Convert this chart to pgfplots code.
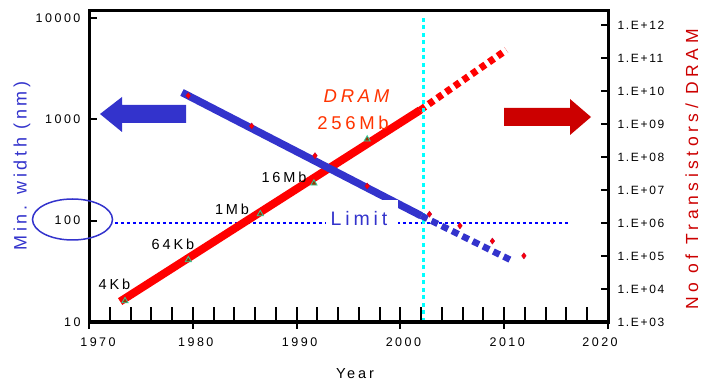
\documentclass[border=0pt]{standalone}
\usepackage{fontspec}
\setmainfont{Liberation Sans}[LetterSpace=20]
\newfontfamily\rlabfont{Liberation Sans}[LetterSpace=26]
\newfontfamily\rtickfont{Liberation Sans}[LetterSpace=14]
\usepackage{pgfplots}
\pgfplotsset{compat=1.18}
\definecolor{bl}{RGB}{51,51,204}
\definecolor{limitblue}{RGB}{0,0,255}
\definecolor{redline}{RGB}{255,0,0}
\definecolor{darkred}{RGB}{204,0,0}
\definecolor{dramorange}{RGB}{255,51,0}
\definecolor{cyanl}{RGB}{0,255,255}
\definecolor{tribrown}{RGB}{153,51,0}
\definecolor{trigreen}{RGB}{51,204,153}
\definecolor{diaedge}{RGB}{204,0,51}
\pgfplotsset{
  common/.style={
    at={(89pt,58pt)}, anchor=south west,
    scale only axis, width=519pt, height=311.3pt,
    xmin=1970, xmax=2020,
    axis line style={line width=3pt, black},
    tick style={black, line width=2pt},
    ticklabel style={font=\fontsize{12.5}{14}\selectfont, black},
    xminorticks=false, yminorticks=false,
  }
}
\begin{document}
\begin{tikzpicture}
\useasboundingbox (0,0) rectangle (703pt,380pt);
% ---------- right axis (transistors) ----------
\begin{axis}[common,
  ymode=log, ymin=1e3, ymax=2.71e12,
  xtick={1970,1980,1990,2000,2010,2020}, xticklabels={{},{},{},{},{},{}},
  xticklabel style={opacity=0},
  xtick align=outside, xtick pos=bottom,
  ytick={1e3,1e4,1e5,1e6,1e7,1e8,1e9,1e10,1e11,1e12},
  yticklabels={1.E+03,1.E+04,1.E+05,1.E+06,1.E+07,1.E+08,1.E+09,1.E+10,1.E+11,1.E+12},
  ytick align=inside, ytick pos=right, yticklabel pos=right,
  major tick length=7pt,
  yticklabel style={anchor=west, xshift=6pt, font=\fontsize{12}{14}\selectfont\rtickfont},
]
\addplot[draw=limitblue, line width=2.5pt, dash pattern=on 3pt off 3pt] coordinates {(1972.5,1e6) (2016.3,1e6)};
\addplot[draw=redline, line width=8pt] coordinates {(1973.0,4.17e3) (2001.9,2.63e9)};
\addplot[draw=redline, line width=7pt, dash pattern=on 6pt off 4.5pt] coordinates {(2001.9,2.63e9) (2010.2,1.74e11)};
\addplot[only marks, mark=triangle*, mark size=3.6pt, mark options={fill=tribrown, draw=trigreen, line width=0.8pt}] coordinates {
(1973.47,4330) (1979.57,75700) (1986.5,1.87e6) (1991.67,1.6e7) (1996.8,3.44e8)};
\addplot[draw=cyanl, line width=3pt, dash pattern=on 4pt off 3.5pt] coordinates {(2002.2,1e3) (2002.2,2e12)};
\end{axis}
% ---------- left axis (min width) ----------
\begin{axis}[common,
  ymode=log, ymin=10, ymax=11830,
  xtick=\empty,
  ytick={10,100,1000,10000}, yticklabels={10,100,1000,10000},
  ytick align=inside, ytick pos=left,
  major tick length=8pt,
  yticklabel style={anchor=east, xshift=-5pt},
]
\addplot[draw=bl, line width=7.5pt] coordinates {(1978.96,1845) (2002.0,112)};
\addplot[draw=bl, line width=6.5pt, dash pattern=on 7pt off 4.5pt] coordinates {(2002.0,112) (2010.6,41)};
\addplot[only marks, mark=diamond*, mark size=3pt, mark options={fill=redline, draw=diaedge, line width=0.5pt}] coordinates {
(1979.56,1714) (1985.67,861) (1991.77,438) (1996.8,220) (2002.8,116) (2005.74,89) (2008.86,63) (2011.9,45)};
\end{axis}
% ---------- x ticks inside with minor ----------
\begin{axis}[common,
  ymin=0, ymax=1, ytick=\empty,
  xtick={1970,1980,1990,2000,2010,2020},
  xticklabels={\hspace*{12pt}1970,1980,1990,2000,2010,2020\hspace*{22pt}},
  minor x tick num=4, xminorticks=true,
  xtick align=inside, xtick pos=bottom,
  major tick length=15pt, minor tick length=15pt,
  minor tick style={black, line width=2pt},
  xticklabel style={anchor=center, yshift=-20pt, xshift=3pt},
]
\addplot[draw=none] coordinates {(1970,0)};
\end{axis}
% ---------- annotations (pixel coordinates, y downward) ----------
\begin{scope}[x=1pt, y=-1pt, shift={(0pt,380pt)}]
\fill[white] (326,200) rectangle (398,237);
\node[anchor=base, text=bl, font=\fontsize{19.5}{22}\selectfont, inner sep=0pt] at (359,225.7) {Limit};
\node[anchor=base, font=\fontsize{14.5}{16}\selectfont, inner sep=0pt] at (114.5,290) {4Kb};
\node[anchor=base, font=\fontsize{14.5}{16}\selectfont, inner sep=0pt] at (173,250) {64Kb};
\node[anchor=base, font=\fontsize{14.5}{16}\selectfont, inner sep=0pt] at (232,215) {1Mb};
\node[anchor=base, font=\fontsize{14.5}{16}\selectfont, inner sep=0pt] at (284,183) {16Mb};
\node[anchor=base, text=dramorange, font=\fontsize{18.5}{21}\selectfont\itshape, inner sep=0pt] at (356.5,103) {DRAM};
\node[anchor=base, text=dramorange, font=\fontsize{18.5}{21}\selectfont, inner sep=0pt] at (353,130) {256Mb};
\node[anchor=base, font=\fontsize{14.5}{16}\selectfont, inner sep=0pt] at (355,378) {Year};
\node[anchor=base, rotate=90, text=bl, font=\fontsize{18}{20}\selectfont, inner sep=0pt] at (26.5,166) {Min. width (nm)};
\node[anchor=base, rotate=90, text=darkred, font=\fontsize{17.5}{20}\selectfont\rlabfont, inner sep=0pt] at (698,169.5) {No of Transistors/ DRAM};
\fill[bl] (100,114) -- (122,97) -- (122,105) -- (186,105) -- (186,123) -- (122,123) -- (122,132) -- cycle;
\fill[darkred] (504,108) -- (570,108) -- (570,99) -- (591,117) -- (570,135) -- (570,126) -- (504,126) -- cycle;
\draw[bl, line width=1.5pt] (72.5,219.5) ellipse [x radius=40, y radius=20.5];
\end{scope}
\end{tikzpicture}
\end{document}
